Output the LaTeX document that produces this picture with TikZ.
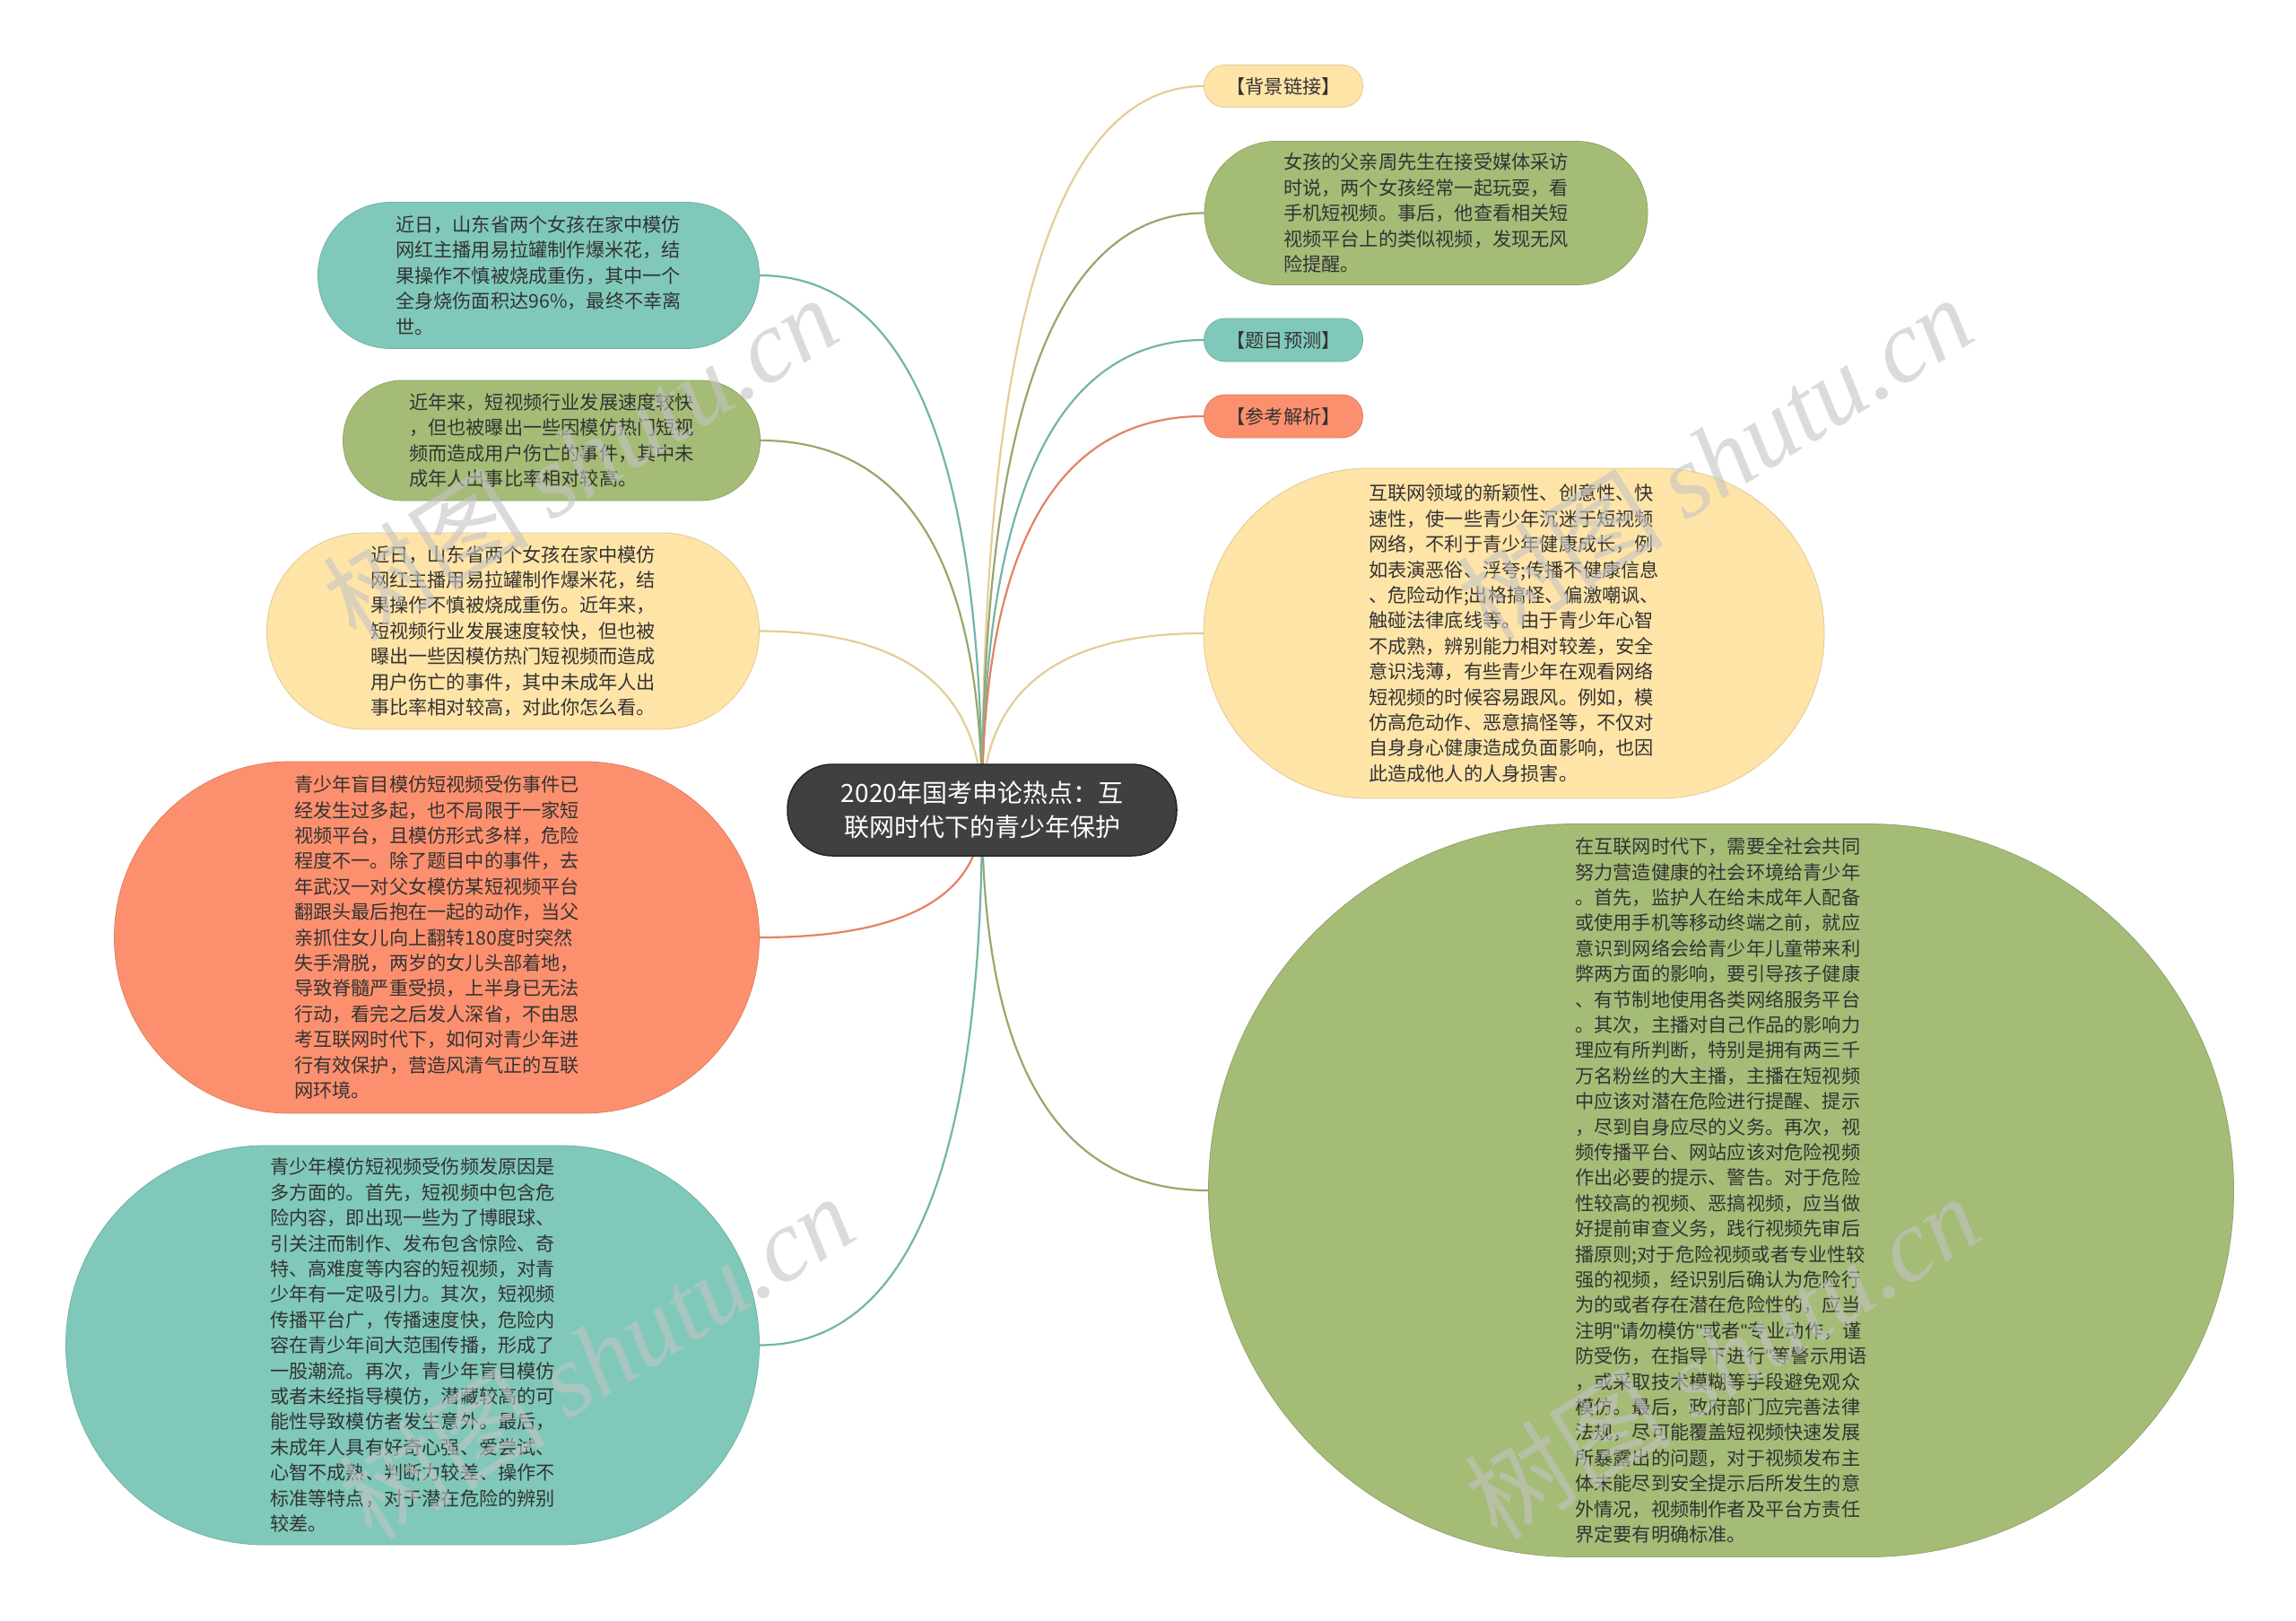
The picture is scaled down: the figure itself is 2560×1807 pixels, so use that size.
\documentclass[tikz,border=0pt]{standalone}
\usepackage{fontspec}
\setmainfont{Noto Sans CJK SC}
\newfontfamily\wmserif{Liberation Serif}
\newfontfamily\qsans{Liberation Sans}
\newcommand{\sq}{{\qsans\symbol{34}}}
\usetikzlibrary{backgrounds,calc}
\definecolor{cteal}{HTML}{80C9BA}
\definecolor{cgreen}{HTML}{A5BC77}
\definecolor{cyellow}{HTML}{FFE4A8}
\definecolor{corange}{HTML}{FC906E}
\definecolor{cdark}{HTML}{404040}
\definecolor{ctext}{HTML}{333333}
\definecolor{wmgray}{HTML}{C4C4C4}
\tikzset{
  topic/.style={rectangle, fill=#1, draw=#1!88!black, line width=0.8pt, text=ctext,
    font=\fontsize{21.2}{28.4}\selectfont, align=left, inner sep=0pt},
  hub/.style={rectangle, fill=cdark, draw=black!85, line width=1.5pt, text=white,
    font=\fontsize{28}{38}\selectfont, align=center, minimum width=434, minimum height=102,
    rounded corners=50, inner sep=0pt},
  conn/.style={line width=2.2pt, draw=#1!90!black, line cap=round},
  qcurve/.style={to path={let \p1=(\tikztostart), \p2=(\tikztotarget) in
    .. controls ($(\p1)!0.6667!(\x1,\y2)$) and ($(\p2)!0.6667!(\x1,\y2)$) .. (\tikztotarget)}},
  wm/.style={rotate=32, text=wmgray, text opacity=0.6, font=\fontsize{115}{120}\selectfont, inner sep=0pt}
}
\begin{document}
\begin{tikzpicture}[x=1pt,y=-1pt]
\useasboundingbox (0,0) rectangle (2560,1807);

% central topic
\node[hub] (c) at (1095,903) {2020年国考申论热点：互\\联网时代下的青少年保护};

% right side
\node[topic=cyellow, minimum width=177, minimum height=47, rounded corners=23] (bg) at (1431,96) {【背景链接】};
\node[topic=cgreen, minimum width=494, minimum height=160, rounded corners=79.5] (n3) at (1590,237.5)
 {女孩的父亲周先生在接受媒体采访\\时说，两个女孩经常一起玩耍，看\\手机短视频。事后，他查看相关短\\视频平台上的类似视频，发现无风\\险提醒。};
\node[topic=cteal, minimum width=177, minimum height=48, rounded corners=23.5] (tm) at (1431,379) {【题目预测】};
\node[topic=corange, minimum width=177, minimum height=48, rounded corners=23.5] (ck) at (1431,464) {【参考解析】};
\node[topic=cyellow, minimum width=692, minimum height=368, rounded corners=183.5] (n6) at (1688,706)
 {互联网领域的新颖性、创意性、快\\速性，使一些青少年沉迷于短视频\\网络，不利于青少年健康成长，例\\如表演恶俗、浮夸;传播不健康信息\\、危险动作;出格搞怪、偏激嘲讽、\\触碰法律底线等。由于青少年心智\\不成熟，辨别能力相对较差，安全\\意识浅薄，有些青少年在观看网络\\短视频的时候容易跟风。例如，模\\仿高危动作、恶意搞怪等，不仅对\\自身身心健康造成负面影响，也因\\此造成他人的人身损害。};
\node[topic=cgreen, minimum width=1143, minimum height=817, rounded corners=408] (n7) at (1919,1327)
 {在互联网时代下，需要全社会共同\\努力营造健康的社会环境给青少年\\。首先，监护人在给未成年人配备\\或使用手机等移动终端之前，就应\\意识到网络会给青少年儿童带来利\\弊两方面的影响，要引导孩子健康\\、有节制地使用各类网络服务平台\\。其次，主播对自己作品的影响力\\理应有所判断，特别是拥有两三千\\万名粉丝的大主播，主播在短视频\\中应该对潜在危险进行提醒、提示\\，尽到自身应尽的义务。再次，视\\频传播平台、网站应该对危险视频\\作出必要的提示、警告。对于危险\\性较高的视频、恶搞视频，应当做\\好提前审查义务，践行视频先审后\\播原则;对于危险视频或者专业性较\\强的视频，经识别后确认为危险行\\为的或者存在潜在危险性的，应当\\注明\sq 请勿模仿\sq 或者\sq 专业动作，谨\\防受伤，在指导下进行\sq 等警示用语\\，或采取技术模糊等手段避免观众\\模仿。最后，政府部门应完善法律\\法规，尽可能覆盖短视频快速发展\\所暴露出的问题，对于视频发布主\\体未能尽到安全提示后所发生的意\\外情况，视频制作者及平台方责任\\界定要有明确标准。};

% left side
\node[topic=cteal, minimum width=492, minimum height=163, rounded corners=81] (n8) at (600.5,307)
 {近日，山东省两个女孩在家中模仿\\网红主播用易拉罐制作爆米花，结\\果操作不慎被烧成重伤，其中一个\\全身烧伤面积达96\%，最终不幸离\\世。};
\node[topic=cgreen, minimum width=465, minimum height=134, rounded corners=66.5] (n9) at (615,491)
 {近年来，短视频行业发展速度较快\\，但也被曝出一些因模仿热门短视\\频而造成用户伤亡的事件，其中未\\成年人出事比率相对较高。};
\node[topic=cyellow, minimum width=549, minimum height=219, rounded corners=109] (n10) at (572,703.5)
 {近日，山东省两个女孩在家中模仿\\网红主播用易拉罐制作爆米花，结\\果操作不慎被烧成重伤。近年来，\\短视频行业发展速度较快，但也被\\曝出一些因模仿热门短视频而造成\\用户伤亡的事件，其中未成年人出\\事比率相对较高，对此你怎么看。};
\node[topic=corange, minimum width=719, minimum height=392, rounded corners=195.5] (n11) at (487,1045)
 {青少年盲目模仿短视频受伤事件已\\经发生过多起，也不局限于一家短\\视频平台，且模仿形式多样，危险\\程度不一。除了题目中的事件，去\\年武汉一对父女模仿某短视频平台\\翻跟头最后抱在一起的动作，当父\\亲抓住女儿向上翻转180度时突然\\失手滑脱，两岁的女儿头部着地，\\导致脊髓严重受损，上半身已无法\\行动，看完之后发人深省，不由思\\考互联网时代下，如何对青少年进\\行有效保护，营造风清气正的互联\\网环境。};
\node[topic=cteal, minimum width=773, minimum height=445, rounded corners=222] (n12) at (460,1499.5)
 {青少年模仿短视频受伤频发原因是\\多方面的。首先，短视频中包含危\\险内容，即出现一些为了博眼球、\\引关注而制作、发布包含惊险、奇\\特、高难度等内容的短视频，对青\\少年有一定吸引力。其次，短视频\\传播平台广，传播速度快，危险内\\容在青少年间大范围传播，形成了\\一股潮流。再次，青少年盲目模仿\\或者未经指导模仿，潜藏较高的可\\能性导致模仿者发生意外。最后，\\未成年人具有好奇心强、爱尝试、\\心智不成熟、判断力较差、操作不\\标准等特点，对于潜在危险的辨别\\较差。};

% connectors
\begin{pgfonlayer}{background}
\fill[white] (0,0) rectangle (2560,1807);
\draw[conn=cyellow, qcurve] (c.center) to (bg.west);
\draw[conn=cgreen, qcurve] (c.center) to (n3.west);
\draw[conn=cteal, qcurve] (c.center) to (tm.west);
\draw[conn=corange, qcurve] (c.center) to (ck.west);
\draw[conn=cyellow, qcurve] (c.center) to (n6.west);
\draw[conn=cgreen, qcurve] (c.center) to (n7.west);
\draw[conn=cteal, qcurve] (c.center) to (n8.east);
\draw[conn=cgreen, qcurve] (c.center) to (n9.east);
\draw[conn=cyellow, qcurve] (c.center) to (n10.east);
\draw[conn=corange, qcurve] (c.center) to (n11.east);
\draw[conn=cteal, qcurve] (c.center) to (n12.east);
\end{pgfonlayer}

% watermarks
\node[wm] (w1) at (647,510) {树图 {\wmserif\itshape shutu.cn}};
\node[wm] (w2) at (1912,510) {树图 {\wmserif\itshape shutu.cn}};
\node[wm] (w3) at (665,1512) {树图 {\wmserif\itshape shutu.cn}};
\node[wm] (w4) at (1920,1512) {树图 {\wmserif\itshape shutu.cn}};
\end{tikzpicture}
\end{document}
